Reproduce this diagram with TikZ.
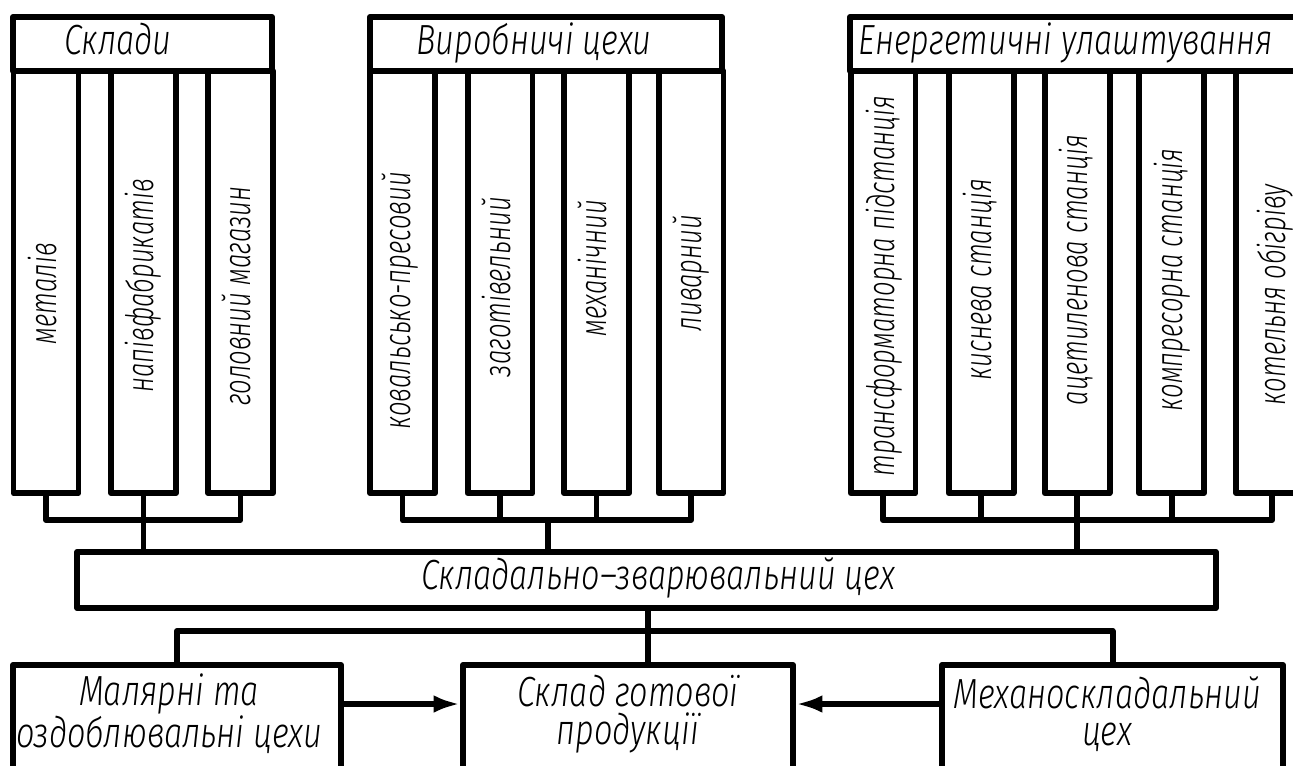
\documentclass[tikz,border=0pt]{standalone}
\usepackage{fontspec}
\newfontfamily\gost[FakeStretch=0.77]{Fira Sans Light Italic}
\newfontfamily\gostv[FakeStretch=0.68]{Fira Sans Light Italic}
\usetikzlibrary{arrows.meta,positioning}

\begin{document}
\begin{tikzpicture}[x=0.02cm,y=-0.02cm,line width=3.4pt,line join=round,
        every node/.style={font=\gost\fontsize{24}{21.5}\selectfont},
        blk/.style={draw,line width=3.4pt,inner sep=0pt,minimum height=1.08cm},
        col/.style={draw,line width=3.4pt,inner sep=0pt,minimum width=1.3cm,minimum height=8.44cm},
        vlbl/.style={rotate=90,anchor=base,font=\gostv\fontsize{21.5}{22}\selectfont},
        arr/.style={-{Latex[length=15pt,width=10pt]}}]
        \useasboundingbox (0,0) rectangle (1293,765);
        \clip (0,0) rectangle (1293,765);
        \fill[white] (0,0) rectangle (1293,765);
        % склади
        \node[blk,minimum width=5.18cm] (skl) at (142.5,44) {};
        \node[anchor=base] at (118,54) {Склади};
        \node[col] (s1) at (46,282) {};
        \node[col] (s2) at (143.5,282) {};
        \node[col] (s3) at (240.5,282) {};
        \node[vlbl] at (56,294) {металів};
        \node[vlbl] at (153,286) {напівфабрикатів};
        \node[vlbl] at (250,296) {головний магазин};
        % виробничі цехи
        \node[blk,minimum width=7.04cm] (vyr) at (546,44) {};
        \node[anchor=base] at (534,54) {Виробничі цехи};
        \node[col] (v1) at (402.5,282) {};
        \node[col] (v2) at (500,282) {};
        \node[col] (v3) at (596.5,282) {};
        \node[col] (v4) at (691,282) {};
        \node[vlbl] at (410,301) {ковальсько-пресовий};
        \node[vlbl] at (510,287) {заготівельний};
        \node[vlbl] at (606,268) {механічний};
        \node[vlbl] at (701,273) {ливарний};
        % енергетичні улаштування
        \node[blk,minimum width=9.4cm] (enr) at (1085,44) {};
        \node[anchor=base] at (1066,54) {Енергетичні улаштування};
        \node[col] (e1) at (883,282) {};
        \node[col] (e2) at (981,282) {};
        \node[col] (e3) at (1077,282) {};
        \node[col] (e4) at (1171.5,282) {};
        \node[col,minimum width=1.68cm] (e5) at (1278,282) {};
        \node[vlbl] at (894,286) {трансформаторна підстанція};
        \node[vlbl] at (991,280) {киснева станція};
        \node[vlbl] at (1087,270) {ацетиленова станція};
        \node[vlbl] at (1182,280) {компресорна станція};
        \node[vlbl] at (1285,295) {котельня обігріву};
        % складально-зварювальний цех
        \node[blk,minimum width=22.78cm,minimum height=1.12cm] (main) at (646.5,580) {};
        \node[anchor=base] at (658,589) {Складально–зварювальний цех};
        \draw (s1.south) -- ++(0,24) -| (s3.south);
        \draw (s2.south) -- (s2.south |- main.north);
        \draw (v1.south) -- ++(0,24) -| (v4.south);
        \draw (v2.south) -- ++(0,24);
        \draw (v3.south) -- ++(0,24);
        \coordinate (vbus) at (548,517);
        \draw (vbus) -- (vbus |- main.north);
        \draw (e1.south) -- ++(0,24) -| (e5.south -| 1272,0);
        \draw (e2.south) -- ++(0,24);
        \draw (e4.south) -- ++(0,24);
        \draw (e5.south -| 1272,0) -- ++(0,24);
        \draw (e3.south) -- (e3.south |- main.north);
        % нижній ряд
        \node[blk,minimum width=6.56cm,minimum height=2.7cm] (mal) at (177,732.5) {};
        \node[blk,minimum width=6.6cm,minimum height=2.7cm] (gp) at (628,732.5) {};
        \node[blk,minimum width=6.82cm,minimum height=2.7cm] (mex) at (1112.5,732.5) {};
        \node[align=center] at (169,714) {Малярні та\\оздоблювальні цехи};
        \node[align=center] at (628,714) {Склад готової\\продукції};
        \node[align=center] at (1107,714) {Механоскладальний\\цех};
        \coordinate (bus) at (648,631);
        \coordinate (lvl) at (0,704);
        \draw (main.south -| bus) -- (bus |- gp.north);
        \draw (mal.north) -- (mal.north |- bus) -- (mex.north |- bus) -- (mex.north);
        \draw[arr] (mal.east |- lvl) -- (gp.west |- lvl);
        \draw[arr] (mex.west |- lvl) -- (gp.east |- lvl);
    \end{tikzpicture}
\end{document}
